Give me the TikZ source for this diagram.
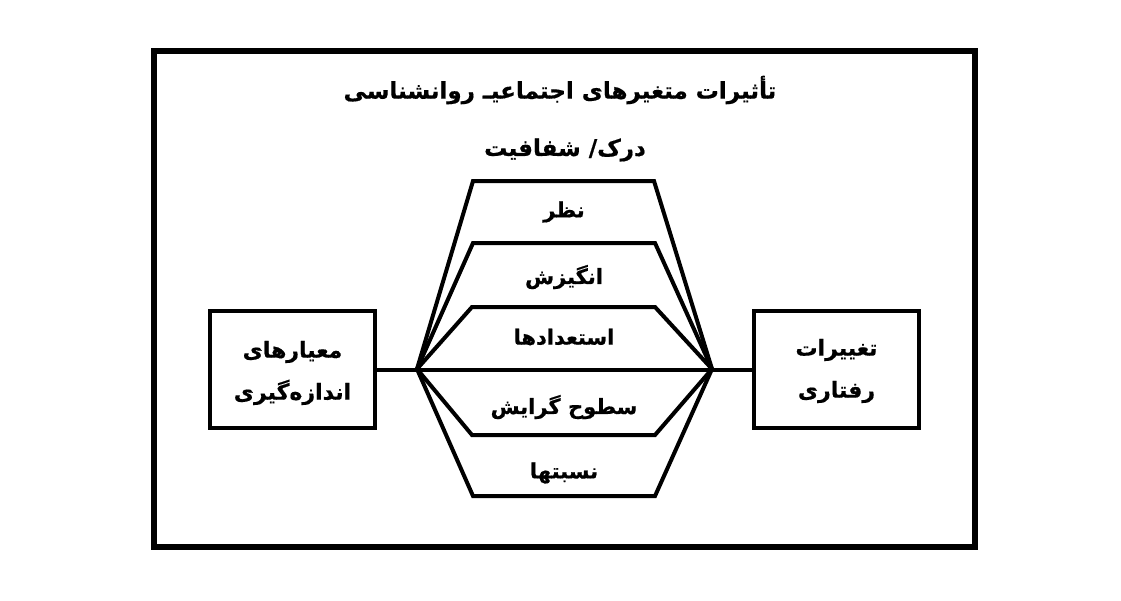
\documentclass[tikz,border=0pt]{standalone}
\usepackage{fontspec}
\TeXXeTstate=1
\newfontfamily\fa[Script=Arabic,BoldFont={DejaVu Sans Bold},BoldFeatures={FakeBold=0.6}]{DejaVu Sans}
\begin{document}
\begin{tikzpicture}[x=1pt,y=-1pt,
  txt/.style={font=\fa\bfseries\fontsize{21}{24}\selectfont, inner sep=0pt},
  box/.style={draw, line width=4pt, minimum width=165pt, minimum height=117pt, inner sep=0pt},
  boxtxt/.style={align=center, inner sep=0pt, font=\fa\bfseries\fontsize{22}{42}\selectfont},
  trap/.style={draw, line width=4pt}]
\useasboundingbox (0,0) rectangle (1121,600);
\draw[line width=6pt] (153.5,50.5) rectangle (974.5,546.5);
% title
\node[txt, font=\fa\bfseries\fontsize{23}{26}\selectfont] (title) at (560,90) {\beginR تأثیرات متغیرهای اجتماعیـ روانشناسی\endR};
\node[txt, font=\fa\bfseries\fontsize{23}{26}\selectfont] (trans) at (565,150) {\beginR درک/ شفافیت\endR};
% boxes
\node[box] (lbox) at (292.5,369.5) {};
\node[box] (rbox) at (836.5,369.5) {};
\node[boxtxt] (ltext) at (292.5,373) {\beginR معیارهای\endR\\\beginR اندازه‌گیری\endR};
\node[boxtxt] (rtext) at (836.5,371) {\beginR تغییرات\endR\\\beginR رفتاری\endR};
% vertices
\coordinate (L) at (417,369);
\coordinate (R) at (712,369);
\draw[line width=4pt] (lbox.east) -- (rbox.west);
% trapezoids
\draw[trap] (L) -- (473,181) -- (654,181) -- (R);
\draw[trap] (L) -- (473,243) -- (655,243) -- (R);
\draw[trap] (L) -- (472,307) -- (655,307) -- (R);
\draw[trap] (L) -- (472,435) -- (655,435) -- (R);
\draw[trap] (L) -- (473,496) -- (655,496) -- (R);
% labels
\node[txt] (t1) at (564,212) {\beginR نظر\endR};
\node[txt] (t2) at (564,277) {\beginR انگیزش\endR};
\node[txt] (t3) at (564,337) {\beginR استعدادها\endR};
\node[txt] (t4) at (564,407) {\beginR سطوح گرایش\endR};
\node[txt] (t5) at (564,473) {\beginR نسبتها\endR};
\end{tikzpicture}
\end{document}
